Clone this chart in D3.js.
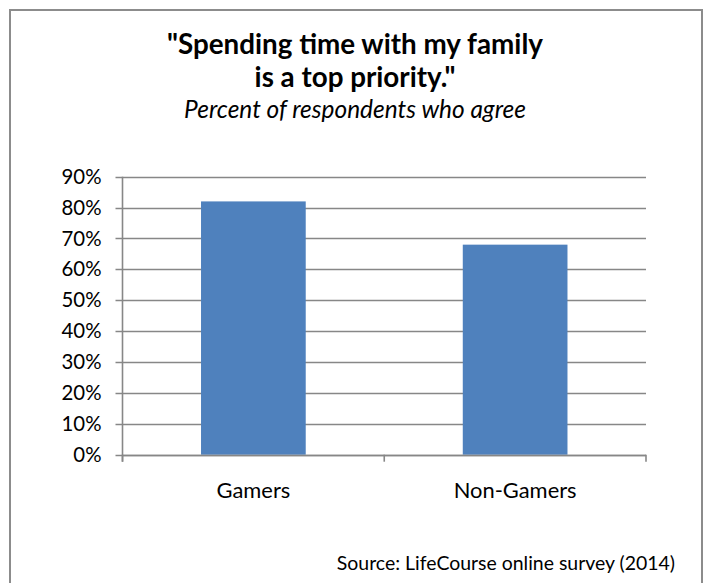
<!DOCTYPE html>
<html>
<head>
<meta charset="utf-8">
<script src="https://cdn.jsdelivr.net/npm/d3@7"></script>
<style>
  html, body { margin: 0; padding: 0; background: #fff; }
  svg { display: block; }
  text { font-family: Lato, "Open Sans", sans-serif; fill: #000; }
</style>
</head>
<body>
<svg id="chart" width="707" height="583"></svg>
<script>
// Survey results: share of respondents who agree
const categories = ["Gamers", "Non-Gamers"];
const values = [0.82, 0.68];
const yTicks = [0, 0.1, 0.2, 0.3, 0.4, 0.5, 0.6, 0.7, 0.8, 0.9];
const titleLines = ["\"Spending time with my family", "is a top priority.\""];
const subtitle = "Percent of respondents who agree";
const source = "Source: LifeCourse online survey (2014)";

const svg = d3.select("#chart");

// Scale a text element's font size so that a run of its characters spans `width` px
function fitText(node, width, start = 0, count = null) {
  const base = 20;
  node.setAttribute("font-size", base);
  const n = count === null ? node.getNumberOfChars() - start : count;
  const w = node.getSubStringLength(start, n);
  const size = base * width / w;
  node.setAttribute("font-size", size.toFixed(2));
  return size;
}

// Chart frame
svg.append("rect")
  .attr("x", 10).attr("y", 10)
  .attr("width", 692).attr("height", 600)
  .attr("fill", "#fff")
  .attr("stroke", "#8c8c8c")
  .attr("stroke-width", 2);

// Plot area
const plot = { left: 122.5, right: 646, top: 176.7, bottom: 454.7 };

const x = d3.scaleBand()
  .domain(categories)
  .range([plot.left, plot.right])
  .paddingInner(0.6)
  .paddingOuter(0.3);

const y = d3.scaleLinear()
  .domain([0, 0.9])
  .range([plot.bottom, plot.top]);

const gridColor = "#878787";

// Horizontal gridlines with small left ticks
svg.append("g")
  .selectAll("line")
  .data(yTicks)
  .join("line")
  .attr("x1", plot.left - 7)
  .attr("x2", plot.right)
  .attr("y1", d => Math.round(y(d)) + 0.5)
  .attr("y2", d => Math.round(y(d)) + 0.5)
  .attr("stroke", gridColor)
  .attr("stroke-width", 1.6);

// Y axis labels
const yAxis = d3.axisLeft(y)
  .tickValues(yTicks)
  .tickFormat(d3.format(".0%"))
  .tickSize(0)
  .tickPadding(21);

const yAxisG = svg.append("g")
  .attr("transform", `translate(${plot.left},0)`)
  .call(yAxis)
  .call(g => g.select(".domain").remove());
yAxisG.selectAll("text")
  .attr("font-family", "Lato, sans-serif")
  .attr("fill", "#000");
const topLabel = yAxisG.selectAll("text").filter(d => d === 0.9).node();
const tickSize = fitText(topLabel, 40);
yAxisG.selectAll("text").attr("font-size", tickSize.toFixed(2));

// Bars
svg.append("g")
  .selectAll("rect")
  .data(categories)
  .join("rect")
  .attr("x", d => x(d))
  .attr("width", x.bandwidth())
  .attr("y", (d, i) => y(values[i]))
  .attr("height", (d, i) => y(0) - y(values[i]))
  .attr("fill", "#4f81bd");

// Vertical axis line
svg.append("line")
  .attr("x1", plot.left).attr("x2", plot.left)
  .attr("y1", plot.top).attr("y2", plot.bottom + 7)
  .attr("stroke", gridColor)
  .attr("stroke-width", 1.6);

// Category axis with boundary ticks
const boundaries = [plot.left, ...categories.map(c => x(c) + x.bandwidth() / 2 + x.step() / 2)];
svg.append("line")
  .attr("x1", plot.left).attr("x2", plot.right)
  .attr("y1", Math.round(y(0)) + 0.5).attr("y2", Math.round(y(0)) + 0.5)
  .attr("stroke", gridColor)
  .attr("stroke-width", 1.6);
svg.append("g")
  .selectAll("line")
  .data(boundaries)
  .join("line")
  .attr("x1", d => d).attr("x2", d => d)
  .attr("y1", plot.bottom).attr("y2", plot.bottom + 7)
  .attr("stroke", gridColor)
  .attr("stroke-width", 1.6);

// Category labels
const catLabels = svg.append("g")
  .selectAll("text")
  .data(categories)
  .join("text")
  .attr("x", d => x(d) + x.bandwidth() / 2)
  .attr("y", 498)
  .attr("text-anchor", "middle")
  .text(d => d);
const catSize = fitText(catLabels.filter(d => d === "Non-Gamers").node(), 123);
catLabels.attr("font-size", catSize.toFixed(2));

// Title and subtitle
const titles = svg.append("g")
  .selectAll("text")
  .data(titleLines)
  .join("text")
  .attr("x", 355)
  .attr("y", (d, i) => 54 + i * 33)
  .attr("text-anchor", "middle")
  .attr("font-weight", "bold")
  .text(d => d);
const titleSize = fitText(titles.nodes()[0], 376);
titles.attr("font-size", titleSize.toFixed(2));

const sub = svg.append("text")
  .attr("x", 355)
  .attr("y", 118)
  .attr("text-anchor", "middle")
  .attr("font-style", "italic")
  .text(subtitle);
fitText(sub.node(), 342);

// Source note
const src = svg.append("text")
  .attr("x", 675)
  .attr("y", 570)
  .attr("text-anchor", "end")
  .text(source);
fitText(src.node(), 270, source.indexOf("LifeCourse"));
</script>
</body>
</html>
